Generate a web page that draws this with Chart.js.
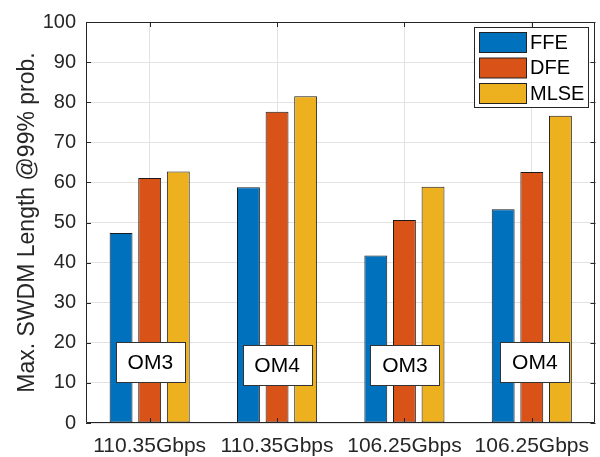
<!DOCTYPE html>
<html>
<head>
<meta charset="utf-8">
<script src="https://cdn.jsdelivr.net/npm/chart.js@4.4.1/dist/chart.umd.min.js"></script>
<style>
  html, body { margin: 0; padding: 0; background: #ffffff; }
  #wrap { width: 600px; height: 457px; overflow: hidden; }
</style>
</head>
<body>
<div id="wrap"><canvas id="c" width="600" height="457"></canvas></div>
<script>
// Link rates along the x axis
const categories = ['110.35Gbps', '110.35Gbps', '106.25Gbps', '106.25Gbps'];
// Equalizer results (maximum reach at 99% probability)
const ffe  = [47.4, 58.8, 41.8, 53.3];
const dfe  = [61.1, 77.6, 50.6, 62.6];
const mlse = [62.7, 81.5, 58.9, 76.6];
// Fibre type tags shown inside each group
const fibreTags = ['OM3', 'OM4', 'OM3', 'OM4'];
const fibreTagX = [0.005, 0.0, 0.004, 0.024];
const fibreTagY = [15.1, 14.5, 14.5, 15.1];
// Y axis
const yTicks = [0, 10, 20, 30, 40, 50, 60, 70, 80, 90, 100];

const FONT = '"Liberation Sans", Arial, Helvetica, sans-serif';
const AXIS_COLOR = '#262626';

// Box, inward tick marks, fibre tags and legend
const decorations = {
  id: 'decorations',
  afterDatasetsDraw(chart) {
    const { ctx, chartArea: a, scales } = chart;
    const xs = scales.x, ys = scales.y;
    const right = Math.min(a.right, chart.width);
    ctx.save();
    ctx.strokeStyle = AXIS_COLOR;
    ctx.lineWidth = 1;
    ctx.beginPath();
    ctx.rect(Math.round(a.left) + 0.5, Math.round(a.top) + 0.5,
             Math.round(right - a.left) - 1, Math.round(a.bottom - a.top) - 1);
    ctx.stroke();
    // inward ticks
    const tl = 5;
    ctx.beginPath();
    yTicks.forEach(v => {
      const y = Math.round(ys.getPixelForValue(v)) + 0.5;
      ctx.moveTo(a.left, y); ctx.lineTo(a.left + tl, y);
      ctx.moveTo(right, y); ctx.lineTo(right - tl, y);
    });
    categories.forEach((c, i) => {
      const x = Math.round(xs.getPixelForValue(i)) + 0.5;
      ctx.moveTo(x, a.bottom); ctx.lineTo(x, a.bottom - tl);
      ctx.moveTo(x, a.top); ctx.lineTo(x, a.top + tl);
    });
    ctx.stroke();

    // fibre tags
    const catW = xs.getPixelForValue(1) - xs.getPixelForValue(0);
    ctx.font = '21px ' + FONT;
    ctx.textAlign = 'center';
    ctx.textBaseline = 'middle';
    fibreTags.forEach((t, i) => {
      const cx = xs.getPixelForValue(i) + fibreTagX[i] * catW;
      const cy = ys.getPixelForValue(fibreTagY[i]);
      const w = 69, h = 40;
      const x0 = Math.round(cx - w / 2) + 0.5, y0 = Math.round(cy - h / 2) + 0.5;
      ctx.fillStyle = '#ffffff';
      ctx.fillRect(x0, y0, w, h);
      ctx.strokeStyle = '#333333';
      ctx.strokeRect(x0, y0, w, h);
      ctx.fillStyle = '#000000';
      ctx.fillText(t, cx, cy + 1);
    });

    // legend
    const lx = 474, ly = a.top + 5, lw = 114, lh = 80;
    ctx.fillStyle = '#ffffff';
    ctx.fillRect(lx + 0.5, ly + 0.5, lw, lh);
    ctx.strokeStyle = AXIS_COLOR;
    ctx.strokeRect(lx + 0.5, ly + 0.5, lw, lh);
    ctx.font = '20px ' + FONT;
    ctx.textAlign = 'left';
    chart.data.datasets.forEach((ds, i) => {
      const sy = ly + 5 + i * 25.5;
      ctx.fillStyle = ds.backgroundColor;
      ctx.fillRect(lx + 5.5, sy + 0.5, 47, 20);
      ctx.strokeStyle = '#222222';
      ctx.strokeRect(lx + 5.5, sy + 0.5, 47, 20);
      ctx.fillStyle = '#000000';
      ctx.fillText(ds.label, lx + 56, sy + 11);
    });
    ctx.restore();
  }
};

new Chart(document.getElementById('c'), {
  type: 'bar',
  data: {
    labels: categories,
    datasets: [
      { label: 'FFE',  data: ffe,  backgroundColor: '#0072BD' },
      { label: 'DFE',  data: dfe,  backgroundColor: '#D95319' },
      { label: 'MLSE', data: mlse, backgroundColor: '#EDB120' }
    ].map(d => Object.assign(d, {
      borderColor: '#1a1a1a', borderWidth: 1, borderSkipped: false,
      categoryPercentage: 0.674, barPercentage: 0.8
    }))
  },
  options: {
    responsive: false,
    animation: false,
    events: [],
    layout: { padding: { top: 17, right: -1, left: 0, bottom: 0 } },
    plugins: { legend: { display: false }, tooltip: { enabled: false } },
    scales: {
      x: {
        grid: { offset: false, color: '#e3e3e3', drawTicks: false },
        border: { display: false },
        ticks: { color: AXIS_COLOR, font: { family: FONT, size: 21 }, padding: 11, maxRotation: 0, autoSkip: false },
        afterFit(s) { s.height = 34; }
      },
      y: {
        min: 0, max: 100,
        afterBuildTicks(s) { s.ticks = yTicks.map(v => ({ value: v })); },
        grid: { color: '#e3e3e3', drawTicks: false },
        border: { display: false },
        ticks: { color: AXIS_COLOR, font: { family: FONT, size: 20 }, padding: 10 },
        title: {
          display: true, text: 'Max. SWDM Length @99% prob.',
          color: AXIS_COLOR, font: { family: FONT, size: 23 }, padding: { top: 14, bottom: 0 }
        },
        afterFit(s) { s.width = 86; }
      }
    }
  },
  plugins: [decorations]
});
</script>
</body>
</html>
